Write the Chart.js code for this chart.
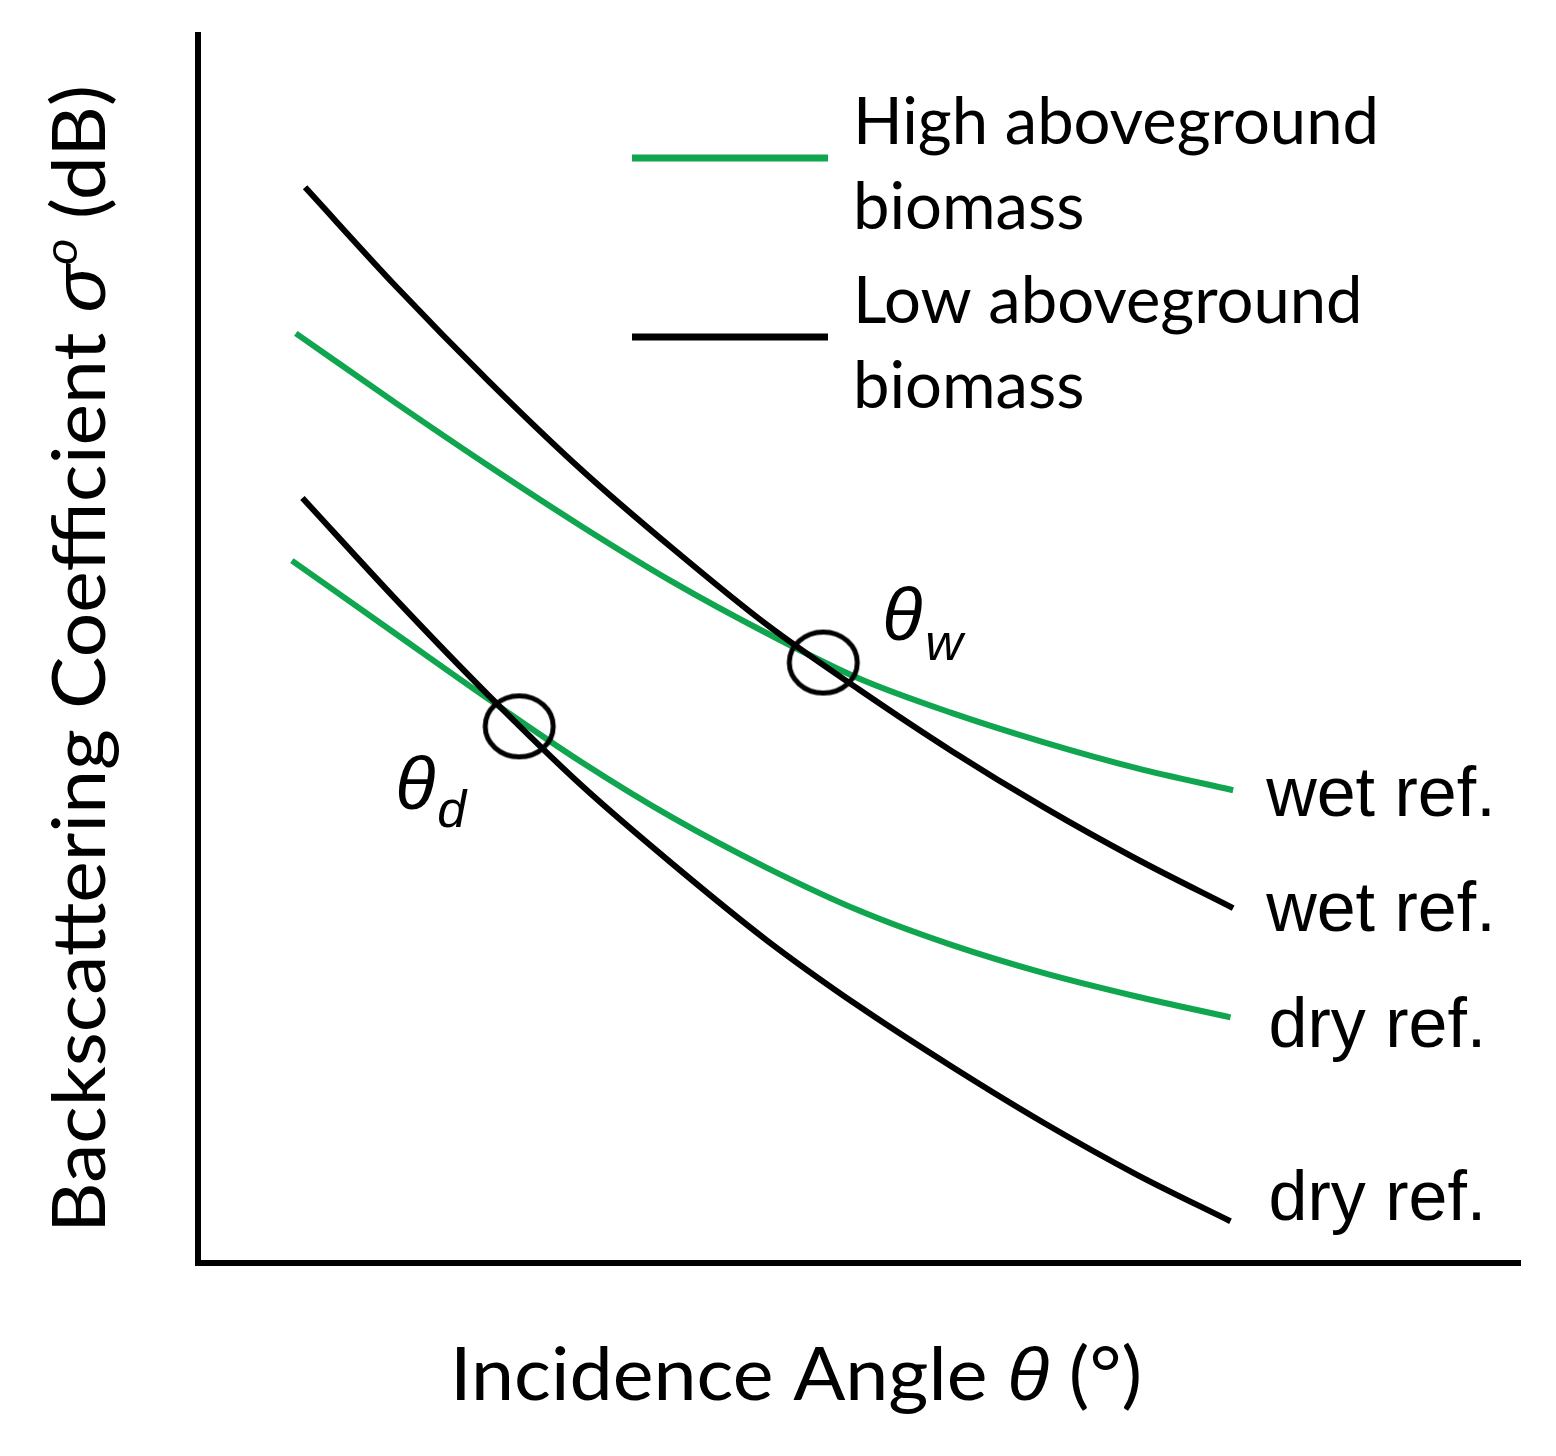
<!DOCTYPE html>
<html>
<head>
<meta charset="utf-8">
<script src="https://cdn.jsdelivr.net/npm/chart.js@4.4.1/dist/chart.umd.min.js"></script>
<style>
    html, body { margin: 0; padding: 0; background: #fff; }
    #wrap { width: 1556px; height: 1456px; }
</style>
</head>
<body>
<div id="wrap"><canvas id="chart" width="1556" height="1456"></canvas></div>
<script>
// schematic figure: both axes in arbitrary units 0-100, no ticks
const lowWetX  = [8.1, 15, 22, 29, 36, 43, 50, 57, 64, 71, 78.3];
const lowWetY  = [87.6, 79.5, 71.8, 64.6, 58.1, 52.0, 46.7, 41.7, 37.1, 32.9, 28.9];

const highWetX = [7.4, 15, 22, 29, 36, 43, 50, 57, 64, 71, 78.3];
const highWetY = [75.7, 70.0, 64.9, 60.0, 55.4, 51.3, 47.6, 44.8, 42.4, 40.3, 38.5];

const lowDryX  = [7.9, 15, 22, 29, 36, 43, 50, 57, 64, 71, 78.1];
const lowDryY  = [62.3, 54.0, 46.2, 38.9, 32.4, 26.3, 20.9, 16.0, 11.4, 7.2, 3.4];

const highDryX = [7.1, 15, 22, 29, 36, 43, 50, 57, 64, 71, 78.1];
const highDryY = [57.2, 51.2, 45.9, 40.8, 36.2, 32.2, 28.7, 25.9, 23.6, 21.7, 20.0];

// crossing points (theta_w, theta_d)
const crossX = [47.3, 24.3];
const crossY = [48.9, 43.7];
const crossSub = ['w', 'd'];

const legendLabels = [['High aboveground', 'biomass'], ['Low aboveground', 'biomass']];
const endLabels = ['wet ref.', 'wet ref.', 'dry ref.', 'dry ref.'];

const GREEN = '#10a54f';
const SANS = 'Lato, "Open Sans", sans-serif';
const ARIAL = '"Liberation Sans", Arial, sans-serif';

function pts(xs, ys) {
    return xs.map((v, i) => ({ x: v, y: ys[i] }));
}

// open ellipse used as point style for the crossing markers
function ellipseMarker() {
    const c = document.createElement('canvas');
    c.width = 82; c.height = 74;
    const g = c.getContext('2d');
    g.strokeStyle = '#000';
    g.lineWidth = 5;
    g.beginPath();
    g.ellipse(41, 37, 34, 30.5, 0, 0, Math.PI * 2);
    g.stroke();
    return c;
}

// draw text made of several styled parts, squeezed to a target width
function drawParts(ctx, parts, targetWidth) {
    const widths = parts.map(p => {
        ctx.font = p.font;
        return ctx.measureText(p.t).width;
    });
    const natural = widths.reduce((a, b) => a + b, 0);
    const sx = targetWidth ? targetWidth / natural : 1;
    ctx.save();
    ctx.scale(sx, 1);
    let cx = 0;
    parts.forEach((p, i) => {
        ctx.font = p.font;
        ctx.fillText(p.t, cx, -(p.rise || 0));
        cx += widths[i];
    });
    ctx.restore();
}

const overlay = {
    id: 'overlay',
    afterDatasetsDraw(chart) {
        const { ctx, chartArea: a, scales: { x, y } } = chart;
        ctx.save();
        ctx.fillStyle = '#000';
        ctx.textBaseline = 'alphabetic';
        ctx.textAlign = 'left';

        // legend
        const legendColors = [GREEN, '#000'];
        const legendLineY = [158, 337];
        ctx.font = '66px ' + SANS;
        const sxLeg = 526 / ctx.measureText(legendLabels[0][0]).width;
        legendLabels.forEach((lines, i) => {
            ctx.strokeStyle = legendColors[i];
            ctx.lineWidth = 7;
            ctx.beginPath();
            ctx.moveTo(632, legendLineY[i]);
            ctx.lineTo(828, legendLineY[i]);
            ctx.stroke();
            lines.forEach((t, j) => {
                ctx.save();
                ctx.translate(853, legendLineY[i] - 14 + j * 85);
                ctx.scale(sxLeg, 1);
                ctx.font = '66px ' + SANS;
                ctx.fillText(t, 0, 0);
                ctx.restore();
            });
        });

        // labels at the right end of each curve
        const ends = [
            [highWetX, highWetY, 26],
            [lowWetX, lowWetY, 23],
            [highDryX, highDryY, 30],
            [lowDryX, lowDryY, -1]
        ];
        ctx.font = '70px ' + ARIAL;
        ends.forEach(([xs, ys, dy], i) => {
            const px = x.getPixelForValue(xs[xs.length - 1]);
            const py = y.getPixelForValue(ys[ys.length - 1]);
            ctx.fillText(endLabels[i], px + (i >= 2 ? 38 : 33), py + dy);
        });

        // theta_w / theta_d labels next to the crossing circles
        const thetaOffset = [[59, -23, 102, -3], [-124, 83, -82, 101]];
        crossX.forEach((cxv, i) => {
            const px = x.getPixelForValue(cxv);
            const py = y.getPixelForValue(crossY[i]);
            const o = thetaOffset[i];
            ctx.font = 'italic 74px ' + ARIAL;
            ctx.fillText('\u03b8', px + o[0], py + o[1]);
            ctx.font = 'italic 52px ' + ARIAL;
            ctx.fillText(crossSub[i], px + o[2], py + o[3]);
        });

        // x axis title
        ctx.save();
        ctx.translate(a.left + 252, a.bottom + 137);
        drawParts(ctx, [
            { t: 'Incidence Angle ', font: '74px ' + SANS },
            { t: '\u03b8', font: 'italic 74px ' + ARIAL },
            { t: ' (\u00b0)', font: '74px ' + SANS }
        ], 692);
        ctx.restore();

        // y axis title
        ctx.save();
        ctx.translate(a.left - 93, a.bottom - 30);
        ctx.rotate(-Math.PI / 2);
        drawParts(ctx, [
            { t: 'Backscattering Coefficient ', font: '74px ' + SANS },
            { t: '\u03c3', font: 'italic 74px ' + ARIAL },
            { t: 'o', font: 'italic 44px ' + ARIAL, rise: 28 },
            { t: ' (dB)', font: '74px ' + SANS }
        ], 1148);
        ctx.restore();

        ctx.restore();
    }
};

const curveStyle = {
    borderWidth: 6,
    pointRadius: 0,
    fill: false,
    cubicInterpolationMode: 'monotone',
    borderCapStyle: 'butt',
    clip: false
};

new Chart(document.getElementById('chart'), {
    type: 'line',
    data: {
        datasets: [
            {
                label: 'crossings',
                data: pts(crossX, crossY),
                showLine: false,
                pointStyle: ellipseMarker(),
                pointRadius: 30,
                clip: false
            },
            { label: 'Low aboveground biomass (wet)', data: pts(lowWetX, lowWetY), borderColor: '#000', ...curveStyle },
            { label: 'Low aboveground biomass (dry)', data: pts(lowDryX, lowDryY), borderColor: '#000', ...curveStyle },
            { label: 'High aboveground biomass (wet)', data: pts(highWetX, highWetY), borderColor: GREEN, ...curveStyle },
            { label: 'High aboveground biomass (dry)', data: pts(highDryX, highDryY), borderColor: GREEN, ...curveStyle }
        ]
    },
    options: {
        responsive: false,
        animation: false,
        devicePixelRatio: 1,
        layout: { padding: { left: 198, top: 35, right: 36, bottom: 193 } },
        plugins: {
            legend: { display: false },
            tooltip: { enabled: false },
            title: { display: false }
        },
        scales: {
            x: {
                type: 'linear',
                min: 0,
                max: 100,
                ticks: { display: false },
                grid: { display: false, drawTicks: false },
                border: { display: true, color: '#000', width: 6 }
            },
            y: {
                type: 'linear',
                min: 0,
                max: 100,
                ticks: { display: false },
                grid: { display: false, drawTicks: false },
                border: { display: true, color: '#000', width: 6 }
            }
        }
    },
    plugins: [overlay]
});
</script>
</body>
</html>
